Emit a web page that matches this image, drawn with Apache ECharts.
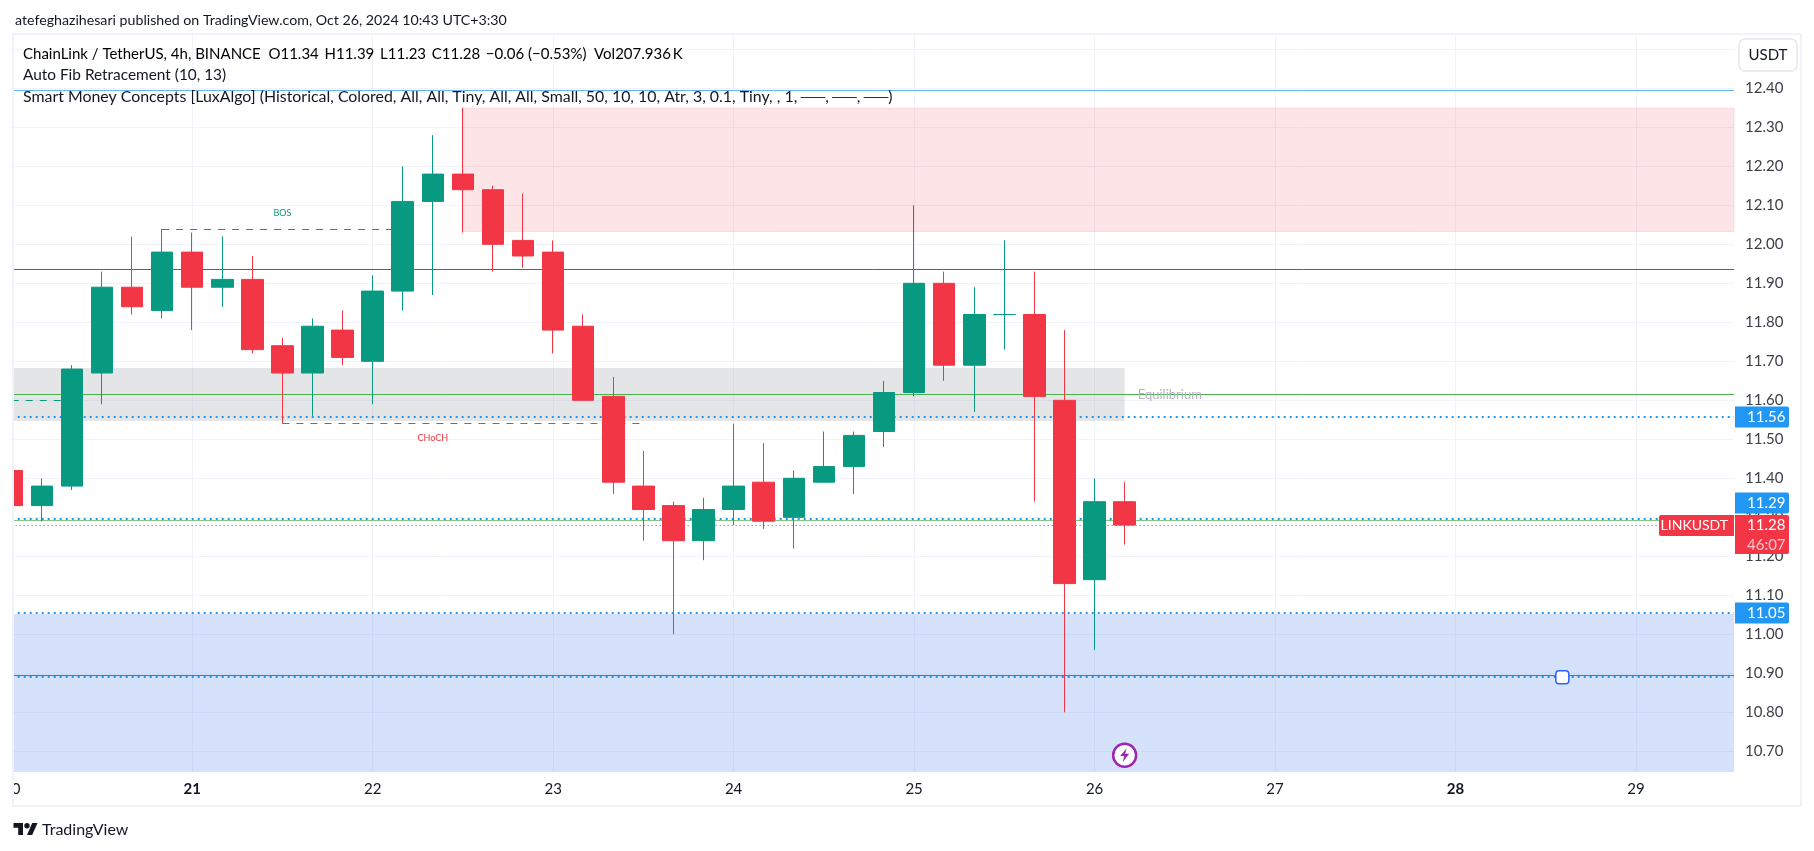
<!DOCTYPE html>
<html>
<head>
<meta charset="utf-8">
<style>
  html, body { margin: 0; padding: 0; background: #fff; }
  #chart { width: 1814px; height: 851px; }
</style>
<script src="https://cdn.jsdelivr.net/npm/echarts@6/dist/echarts.min.js"></script>
</head>
<body>
<div id="chart"></div>
<script>
// hours since Oct 20 00:00, one bar every 4h
const barHours = [0, 4, 8, 12, 16, 20, 24, 28, 32, 36, 40, 44, 48, 52, 56, 60, 64, 68, 72, 76, 80, 84, 88, 92, 96, 100, 104, 108, 112, 116, 120, 124, 128, 132, 136, 140, 144, 148]
const opens = [11.42, 11.33, 11.38, 11.67, 11.89, 11.83, 11.98, 11.89, 11.91, 11.74, 11.67, 11.78, 11.70, 11.88, 12.11, 12.18, 12.14, 12.01, 11.98, 11.79, 11.61, 11.38, 11.33, 11.24, 11.32, 11.39, 11.30, 11.39, 11.43, 11.52, 11.62, 11.90, 11.69, 11.82, 11.82, 11.60, 11.14, 11.34]
const closes = [11.33, 11.38, 11.68, 11.89, 11.84, 11.98, 11.89, 11.91, 11.73, 11.67, 11.79, 11.71, 11.88, 12.11, 12.18, 12.14, 12.00, 11.97, 11.78, 11.60, 11.39, 11.32, 11.24, 11.32, 11.38, 11.29, 11.40, 11.43, 11.51, 11.62, 11.90, 11.69, 11.82, 11.82, 11.61, 11.13, 11.34, 11.28]
const lows = [11.30, 11.29, 11.37, 11.59, 11.82, 11.81, 11.78, 11.84, 11.72, 11.54, 11.56, 11.69, 11.59, 11.83, 11.87, 12.03, 11.93, 11.94, 11.72, 11.60, 11.36, 11.24, 11.00, 11.19, 11.28, 11.27, 11.22, 11.39, 11.36, 11.48, 11.61, 11.65, 11.57, 11.73, 11.34, 10.80, 10.96, 11.23]
const highs = [11.43, 11.40, 11.69, 11.93, 12.02, 12.04, 12.03, 12.02, 11.97, 11.76, 11.81, 11.83, 11.92, 12.20, 12.28, 12.35, 12.15, 12.13, 12.01, 11.82, 11.66, 11.47, 11.34, 11.35, 11.54, 11.49, 11.42, 11.52, 11.52, 11.65, 12.10, 11.93, 11.89, 12.01, 11.93, 11.78, 11.40, 11.39]

const dayLabels = ['20', '21', '22', '23', '24', '25', '26', '27', '28', '29']
const boldDays = ['21', '28']

const hourMax = 229.03
const priceMin = 10.6469
const priceMax = 12.5367

// horizontal levels
const fibTop = 12.3944
const fibTeal = 11.9354
const fibGreen = 11.6147
const fibGreenLow = 11.2914
const fibRed = 10.8939
const dottedLevels = [11.5572, 11.2956, 11.0546, 10.8905]
const lastClose = 11.279

// zones: [hourFrom, hourTo, priceLow, priceHigh]
const supplyZone = [60, hourMax, 12.033, 12.349]
const equilibriumZone = [0, 148, 11.547, 11.683]
const demandZone = [0, hourMax, priceMin, 11.052]

// structure breaks: [hourFrom, hourTo, price]
const bosLines = [[20, 52, 12.038], [0, 8, 11.5995]]
const chochLines = [[36, 84, 11.5405]]

const noteTexts = ['BOS', 'CHoCH', 'Equilibrium']
const noteHours = [36, 56, 154]
const notePrices = [12.079, 11.504, 11.615]

const tagPrices = [11.5572, 11.2956, 11.0546]
const tagTexts = ['11.56', '11.29', '11.05']
const tagShift = [0, -16, 0]
const alertPoint = [148, 10.69]
const handlePoint = [206.2, 10.89]

const GREEN = '#089981'
const RED = '#f23645'
const BLUE = '#2196f3'
const FONT = 'Lato, sans-serif'
const GRID = '#f0f3fa'

const chart = echarts.init(document.getElementById('chart'))

function hLine(from, to, price, lineStyle) {
  return [
    { coord: [from, price], symbol: 'none', lineStyle },
    { coord: [to, price], symbol: 'none' },
  ]
}

function zoneItem(zone, itemStyle) {
  return [
    { coord: [zone[0], zone[3]], itemStyle },
    { coord: [zone[1], zone[2]] },
  ]
}

const levelLines = [
  hLine(0, hourMax, fibTop, { color: '#64b5f6', width: 1, type: 'solid' }),
  hLine(0, hourMax, fibTeal, { color: '#0f8a74', width: 1, type: 'solid' }),
  hLine(0, hourMax, fibGreen, { color: '#4caf50', width: 1, type: 'solid' }),
  hLine(0, hourMax, fibGreenLow, { color: '#81c784', width: 1, type: 'solid' }),
  hLine(0, hourMax, fibRed, { color: RED, width: 1, type: 'solid' }),
  ...dottedLevels.map((pp) => hLine(0, hourMax, pp, { color: BLUE, width: 2, type: [2, 4] })),
  ...bosLines.map((ll) => hLine(ll[0], ll[1], ll[2], { color: GREEN, width: 1, type: [7, 7] })),
  ...chochLines.map((ll) => hLine(ll[0], ll[1], ll[2], { color: RED, width: 1, type: [7, 7] })),
]

const headerRich = {
  d: { fontFamily: FONT, fontSize: 15, color: '#131722' },
  r: { fontFamily: FONT, fontSize: 15, color: RED },
}

const option = {
  animation: false,
  backgroundColor: '#fff',
  grid: { left: 11.7, right: 80, top: 35, bottom: 79 },
  xAxis: {
    type: 'value',
    min: 0,
    max: hourMax,
    interval: 24,
    axisLine: { show: false },
    axisTick: { show: false },
    splitLine: { show: true, showMaxLine: false, lineStyle: { color: GRID, width: 1 } },
    axisLabel: {
      margin: 10,
      showMaxLabel: false,
      hideOverlap: false,
      fontFamily: FONT,
      fontSize: 15,
      color: '#131722',
      formatter: (val) => {
        const label = dayLabels[val / 24] || ''
        return boldDays.includes(label) ? `{b|${label}}` : label
      },
      rich: { b: { fontFamily: FONT, fontSize: 15, fontWeight: 'bold', color: '#131722' } },
    },
  },
  yAxis: {
    type: 'value',
    position: 'right',
    min: priceMin,
    max: priceMax,
    splitNumber: 18,
    scale: true,
    axisLine: { show: false },
    axisTick: { show: false },
    splitLine: { show: true, showMinLine: false, showMaxLine: false, lineStyle: { color: GRID, width: 1 } },
    axisLabel: {
      margin: 11,
      showMinLabel: false,
      showMaxLabel: false,
      fontFamily: FONT,
      fontSize: 15,
      color: '#3c3f48',
      formatter: (val) => val.toFixed(2),
    },
  },
  series: [
    {
      type: 'candlestick',
      z: 2,
      barWidth: 22,
      itemStyle: { color: GREEN, color0: RED, borderColor: GREEN, borderColor0: RED, borderWidth: 1 },
      encode: { x: 0, y: [1, 2, 3, 4] },
      data: barHours.map((hh, ii) => [hh, opens[ii], closes[ii], lows[ii], highs[ii]]),
      markArea: {
        silent: true,
        z: 1,
        data: [
          zoneItem(demandZone, { color: 'rgba(50,110,240,0.2)' }),
          zoneItem(equilibriumZone, { color: 'rgba(120,123,134,0.2)' }),
          zoneItem(supplyZone, { color: 'rgba(242,54,69,0.13)', borderColor: 'rgba(242,54,69,0.13)', borderWidth: 1 }),
        ],
      },
      markLine: {
        silent: true,
        z: 1,
        symbol: 'none',
        label: { show: false },
        data: levelLines,
      },
    },
    {
      // last price line runs over the candles
      type: 'line',
      z: 5,
      silent: true,
      symbol: 'none',
      lineStyle: { color: RED, width: 1, type: [1, 3] },
      data: [[0, lastClose], [hourMax, lastClose]],
    },
    {
      // small text notes of the indicator
      type: 'scatter',
      z: 6,
      silent: true,
      symbolSize: 0,
      itemStyle: { opacity: 1 },
      data: noteTexts.map((tt, ii) => ({
        value: [noteHours[ii], notePrices[ii]],
        label: {
          show: true,
          position: 'inside',
          formatter: tt,
          fontFamily: FONT,
          fontSize: tt === 'Equilibrium' ? 13 : 9,
          color: tt === 'BOS' ? GREEN : tt === 'CHoCH' ? RED : '#b2b5be',
        },
      })),
    },
    {
      // price tags on the axis
      type: 'scatter',
      z: 20,
      silent: true,
      clip: false,
      symbolSize: 0,
      itemStyle: { opacity: 1 },
      data: [
        ...tagPrices.map((pp, ii) => ({
          value: [hourMax, pp],
          label: {
            show: true,
            position: 'right',
            distance: 1,
            offset: [0, tagShift[ii]],
            formatter: tagTexts[ii],
            width: 42,
            height: 21,
            lineHeight: 21,
            padding: [0, 0, 0, 12],
            fontFamily: FONT,
            fontSize: 15,
            color: '#fff',
            backgroundColor: BLUE,
            borderRadius: [0, 2, 2, 0],
          },
        })),
        {
          value: [hourMax, lastClose],
          label: {
            show: true,
            position: 'left',
            distance: 0,
            formatter: 'LINKUSDT',
            width: 69,
            height: 21,
            lineHeight: 21,
            padding: [0, 6, 0, 0],
            fontFamily: FONT,
            fontSize: 14,
            color: '#fff',
            backgroundColor: RED,
            borderRadius: [2, 0, 0, 2],
          },
        },
        {
          value: [hourMax, lastClose],
          label: {
            show: true,
            position: 'right',
            distance: 1,
            offset: [0, 9],
            formatter: '{p|11.28}\n{t|46:07}',
            width: 42,
            height: 39,
            padding: [0, 0, 0, 12],
            backgroundColor: RED,
            borderRadius: [0, 2, 2, 0],
            rich: {
              p: { fontFamily: FONT, fontSize: 15, lineHeight: 21, color: '#fff' },
              t: { fontFamily: FONT, fontSize: 15, lineHeight: 18, color: '#fbc4c9' },
            },
          },
        },
      ],
    },
    {
      // alert marker and axis handle
      type: 'scatter',
      z: 7,
      silent: true,
      itemStyle: { opacity: 1 },
      data: [
        {
          value: alertPoint,
          symbol: 'circle',
          symbolSize: 23,
          itemStyle: { color: '#fff', borderColor: '#9c27b0', borderWidth: 2.5, opacity: 1 },
        },
        {
          value: handlePoint,
          symbol: 'roundRect',
          symbolSize: 13,
          itemStyle: { color: '#fff', borderColor: '#2962ff', borderWidth: 1.5, opacity: 1 },
        },
      ],
    },
    {
      type: 'scatter',
      z: 8,
      silent: true,
      symbol: 'path://M9 0L1 10h5L4 18l8-11H7z',
      symbolSize: [9, 14],
      itemStyle: { color: '#9c27b0', opacity: 1 },
      data: [alertPoint],
    },
  ],
  graphic: [
    // pane frame, the day label "20" runs under it on the left
    { type: 'rect', z: 100, silent: true, shape: { x: 0, y: 0, width: 12, height: 851 }, style: { fill: '#fff' } },
    { type: 'rect', z: 101, silent: true, shape: { x: 13, y: 34, width: 1788, height: 772 }, style: { fill: 'none', stroke: GRID, lineWidth: 2 } },
    {
      type: 'text', z: 102, silent: true, x: 15, y: 20,
      style: {
        text: 'atefeghazihesari published on TradingView.com, Oct 26, 2024 10:43 UTC+3:30',
        fontFamily: FONT, fontSize: 14.2, fill: '#131722', verticalAlign: 'middle',
      },
    },
    {
      type: 'text', z: 102, silent: true, x: 23, y: 54,
      style: {
        text: '{d|ChainLink / TetherUS, 4h, BINANCE  O}{r|11.34}{d| \u2009H}{r|11.39}{d| \u2009L}{r|11.23}{d| \u2009C}{r|11.28}{r| \u2009−0.06 (−0.53%)}{d|  Vol}{r|207.936\u2009K}',
        rich: headerRich, verticalAlign: 'middle',
      },
    },
    {
      type: 'text', z: 102, silent: true, x: 23, y: 75,
      style: { text: 'Auto Fib Retracement (10, 13)', fontFamily: FONT, fontSize: 15.4, fill: '#131722', verticalAlign: 'middle' },
    },
    {
      type: 'text', z: 102, silent: true, x: 23, y: 97,
      style: {
        text: 'Smart Money Concepts [LuxAlgo] (Historical, Colored, All, All, Tiny, All, All, Small, 50, 10, 10, Atr, 3, 0.1, Tiny, , 1, ──, ──, ──)',
        fontFamily: FONT, fontSize: 15.9, fill: '#131722', verticalAlign: 'middle',
      },
    },
    {
      type: 'rect', z: 102, silent: true,
      shape: { x: 1739, y: 39, width: 58, height: 32, r: 6 },
      style: { fill: '#fff', stroke: '#e6e8f0', lineWidth: 1.5 },
    },
    {
      type: 'text', z: 103, silent: true, x: 1768, y: 55,
      style: { text: 'USDT', fontFamily: FONT, fontSize: 15, fill: '#131722', align: 'center', verticalAlign: 'middle' },
    },
    // TradingView mark
    { type: 'polygon', z: 102, silent: true, shape: { points: [[13.5, 823], [23, 823], [23, 835], [18.2, 835], [18.2, 827.7], [13.5, 827.7]] }, style: { fill: '#131722' } },
    { type: 'polygon', z: 102, silent: true, shape: { points: [[32.2, 823], [37.5, 823], [32.2, 835], [27, 835]] }, style: { fill: '#131722' } },
    { type: 'circle', z: 102, silent: true, shape: { cx: 27, cy: 825.7, r: 2.7 }, style: { fill: '#131722' } },
    {
      type: 'text', z: 102, silent: true, x: 42, y: 830,
      style: { text: 'TradingView', fontFamily: FONT, fontSize: 16, fill: '#131722', verticalAlign: 'middle' },
    },
  ],
}

chart.setOption(option)
</script>
</body>
</html>
